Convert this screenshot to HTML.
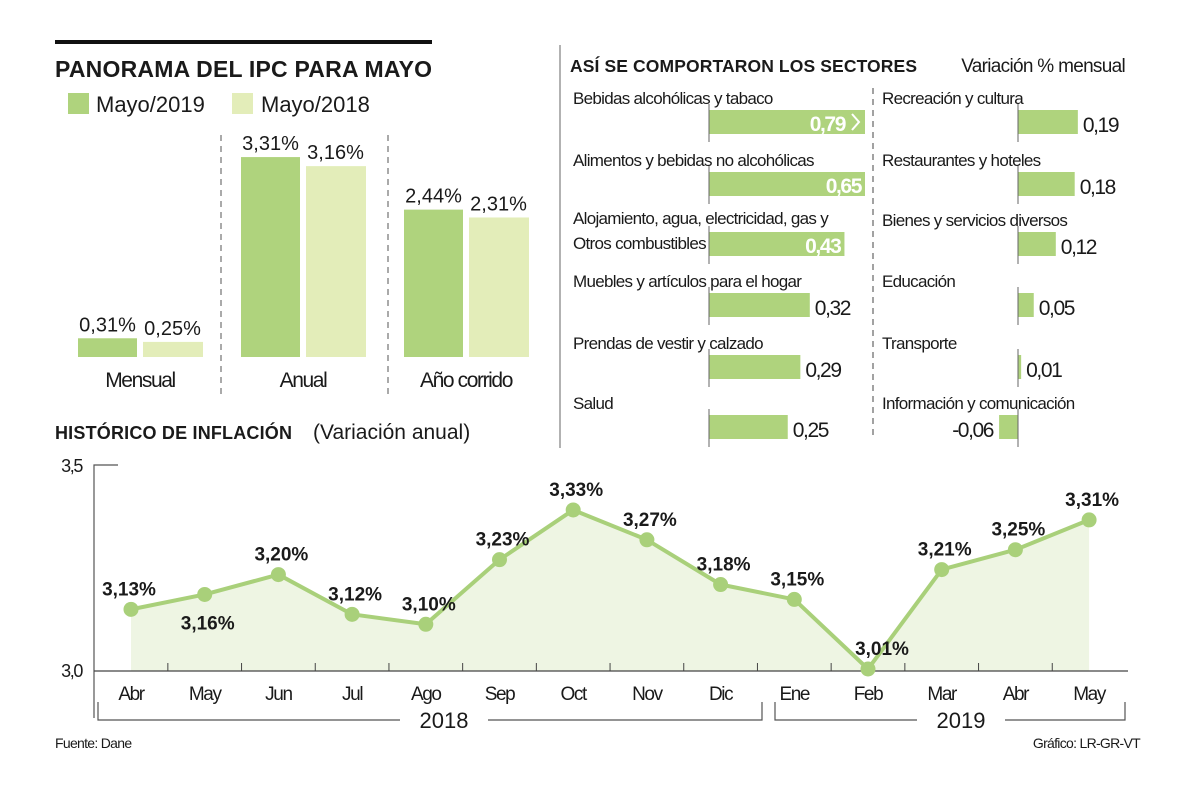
<!DOCTYPE html>
<html><head><meta charset="utf-8">
<style>
body{margin:0;background:#fff;}
svg text{font-family:"Liberation Sans",sans-serif;fill:#1a1a1a;}
.b{font-family:"Liberation Sans",sans-serif;font-weight:bold;}
.n{letter-spacing:-0.7px;}
.v{letter-spacing:-1.4px;}
</style></head>
<body>
<svg id="c" width="1200" height="784" viewBox="0 0 1200 784" xmlns="http://www.w3.org/2000/svg">
<rect x="55" y="40" width="377" height="4" fill="#111"/>
<text x="55" y="77" class="b" font-size="23" textLength="377">PANORAMA DEL IPC PARA MAYO</text>
<rect x="68" y="93" width="21" height="21" fill="#afd37d"/>
<text x="96" y="112" font-size="22">Mayo/2019</text>
<rect x="232" y="93" width="21" height="21" fill="#e3edb9"/>
<text x="261" y="112" font-size="22">Mayo/2018</text>
<line x1="221" y1="135" x2="221" y2="398" stroke="#555" stroke-dasharray="6,5"/>
<line x1="388" y1="135" x2="388" y2="398" stroke="#555" stroke-dasharray="6,5"/>
<g id="bars"></g>
<text x="55" y="439" class="b" font-size="18" textLength="237">HISTÓRICO DE INFLACIÓN</text>
<text x="313" y="439" font-size="21" fill="#333">(Variación anual)</text>
<line x1="560" y1="45" x2="560" y2="448" stroke="#999" stroke-width="1.5"/>
<text x="570" y="72" class="b" font-size="17.5" textLength="347">ASÍ SE COMPORTARON LOS SECTORES</text>
<text x="1125" y="72" font-size="19" text-anchor="end" fill="#333" class="n">Variación % mensual</text>
<line x1="873" y1="88" x2="873" y2="435" stroke="#444" stroke-dasharray="6,5"/>
<g id="sectors"></g>
<g id="line"></g>
<text x="55" y="748" font-size="14" fill="#444" class="n">Fuente: Dane</text>
<text x="1140" y="748" font-size="14" fill="#444" text-anchor="end" class="n">Gráfico: LR-GR-VT</text>
</svg>
<script>
const NS='http://www.w3.org/2000/svg';
function mk(p,t,a){const e=document.createElementNS(NS,t);for(const k in a)e.setAttribute(k,a[k]);p.appendChild(e);return e;}

// --- top-left bar chart data
const barGroups=['Mensual','Anual','Año corrido'];
const vals2019=[0.31,3.31,2.44];
const vals2018=[0.25,3.16,2.31];
const barLabels2019=['0,31%','3,31%','2,44%'];
const barLabels2018=['0,25%','3,16%','2,31%'];

// --- sectors data
const sectorsLeft=['Bebidas alcohólicas y tabaco','Alimentos y bebidas no alcohólicas','Alojamiento, agua, electricidad, gas y|Otros combustibles','Muebles y artículos para el hogar','Prendas de vestir y calzado','Salud'];
const sectorsLeftVals=[0.79,0.65,0.43,0.32,0.29,0.25];
const sectorsRight=['Recreación y cultura','Restaurantes y hoteles','Bienes y servicios diversos','Educación','Transporte','Información y comunicación'];
const sectorsRightVals=[0.19,0.18,0.12,0.05,0.01,-0.06];

// --- line chart data
const months=['Abr','May','Jun','Jul','Ago','Sep','Oct','Nov','Dic','Ene','Feb','Mar','Abr','May'];
const inflation=[3.13,3.16,3.20,3.12,3.10,3.23,3.33,3.27,3.18,3.15,3.01,3.21,3.25,3.31];
const yTicks=['3,0','3,5'];

// bars
(function(){
  const g=document.getElementById('bars');
  const base=357, k=60.4, gx=[78,241,404], bw=59;
  barGroups.forEach((name,i)=>{
    const h1=vals2019[i]*k,h2=vals2018[i]*k;
    let r=mk(g,'rect',{x:gx[i],y:base-h1,width:bw,height:h1,fill:'#afd37d'});
    
    
    r=mk(g,'rect',{x:gx[i]+65,y:base-h2,width:bw+1,height:h2,fill:'#e3edb9'});
    
    
    let t=mk(g,'text',{x:gx[i]+bw/2,y:base-h1-7,'text-anchor':'middle','font-size':20});
    t.textContent=barLabels2019[i];
    
    
    t=mk(g,'text',{x:gx[i]+65+bw/2,y:base-h2-7,'text-anchor':'middle','font-size':20});
    t.textContent=barLabels2018[i];
    
    
    t=mk(g,'text',{x:gx[i]+62,y:387,'text-anchor':'middle','font-size':21,'class':'v'});
    t.textContent=name;
    
    
  });
})();

// sectors
(function(){
  const g=document.getElementById('sectors');
  const k=315, cap=156, rowY=[110,172,232,293,355,415];
  function col(names,vals,lx,bx,side){
    names.forEach((n,i)=>{
      const y=rowY[i], v=vals[i];
      const parts=n.split('|');
      let t=mk(g,'text',{x:lx,y:y-6,'font-size':17,fill:'#222','class':'n'});
      t.textContent=parts[0];
      
      
      if(parts[1]){t.setAttribute('y',y-8);
        let t2=mk(g,'text',{x:lx,y:y+17,'font-size':17,fill:'#222','class':'n'});t2.textContent=parts[1];
        
        }
      const full=Math.abs(v)*k;
      let w=Math.min(full,cap); const x=v>=0?bx:bx-w;
      let r=mk(g,'rect',{x:x,y:y,width:Math.max(w,2),height:24,fill:'#afd37d'});
      
      
      let l=mk(g,'line',{x1:bx,y1:y-6,x2:bx,y2:y+32,stroke:'#666','stroke-width':1});
      
      
      const txt=v.toFixed(2).replace('.',',');
      const broken=full>cap*1.5;
      let vt;
      if(w>120){vt=mk(g,'text',{x:x+w-(broken?20:4),y:y+21,'text-anchor':'end','font-size':21,'font-weight':'bold','class':'v'});vt.style.fill='#fff';}
      else if(v>=0){vt=mk(g,'text',{x:x+w+5,y:y+22,'font-size':21,'class':'v'});}
      else{vt=mk(g,'text',{x:x-6,y:y+22,'font-size':21,'text-anchor':'end','class':'v'});}
      vt.textContent=txt;
      
      
      if(broken){
        let p=mk(g,'polyline',{points:`${x+w-13},${y+4} ${x+w-6},${y+12} ${x+w-13},${y+20}`,fill:'none',stroke:'#fff','stroke-width':2});
        
        
      }
    });
  }
  col(sectorsLeft,sectorsLeftVals,573,709,'left');
  col(sectorsRight,sectorsRightVals,882,1018,'right');
})();

// line chart
(function(){
  const g=document.getElementById('line');
  const x0=131, step=73.7;
  const X=i=>x0+i*step;
  const Y=v=>669-(v-3.01)*497;
  const base=671;
  let d=`M${X(0)},${base}`;inflation.forEach((v,i)=>d+=` L${X(i)},${Y(v)}`);d+=` L${X(inflation.length-1)},${base} Z`;
  let a=mk(g,'path',{d:d,fill:'#eef5e3'});
  
  
  let ax=mk(g,'path',{d:'M118,465 L94,465 L94,718',fill:'none',stroke:'#555','stroke-width':1.2});
  
  
  let xa=mk(g,'line',{x1:94,y1:671,x2:1128,y2:671,stroke:'#444','stroke-width':1.2});
  
  
  for(let i=0;i<months.length;i++){
    if(i>0){let tk=mk(g,'line',{x1:X(i)-step/2,y1:663,x2:X(i)-step/2,y2:671,stroke:'#444'});
      
      }
    let t=mk(g,'text',{x:X(i),y:700,'text-anchor':'middle','font-size':19,fill:'#333','class':'v'});
    t.textContent=months[i];
    
    
  }
  [[yTicks[0],677],[yTicks[1],472]].forEach((p,j)=>{
    let t=mk(g,'text',{x:82,y:p[1],'text-anchor':'end','font-size':18,fill:'#444','class':'v'});t.textContent=p[0];
    
    
  });
  let b1=mk(g,'path',{d:'M98,702 L98,720 L400,720 M488,720 L762,720 L762,702',fill:'none',stroke:'#555','stroke-width':1.2});
  
  
  let y1=mk(g,'text',{x:444,y:728,'text-anchor':'middle','font-size':22,fill:'#333'});y1.textContent='2018';
  
  
  let b2=mk(g,'path',{d:'M775,702 L775,720 L917,720 M1005,720 L1125,720 L1125,702',fill:'none',stroke:'#555','stroke-width':1.2});
  
  
  let y2=mk(g,'text',{x:961,y:728,'text-anchor':'middle','font-size':22,fill:'#333'});y2.textContent='2019';
  
  
  let pts=inflation.map((v,i)=>X(i)+','+Y(v)).join(' ');
  let pl=mk(g,'polyline',{points:pts,fill:'none',stroke:'#a9d07a','stroke-width':4,'stroke-linejoin':'round'});
  
  
  inflation.forEach((v,i)=>{
    let c=mk(g,'circle',{cx:X(i),cy:Y(v),r:7.5,fill:'#a9d07a'});
    
    
    const below=(i===1);
    const dx=(i===10)?14:(i===0?-2:3);
    const ty=below?Y(v)+35:Y(v)-14;
    let t=mk(g,'text',{x:X(i)+dx,y:ty,'text-anchor':'middle','font-size':19,'class':'b'});
    t.textContent=v.toFixed(2).replace('.',',')+'%';
    
    
  });
})();
</script>
</body></html>
